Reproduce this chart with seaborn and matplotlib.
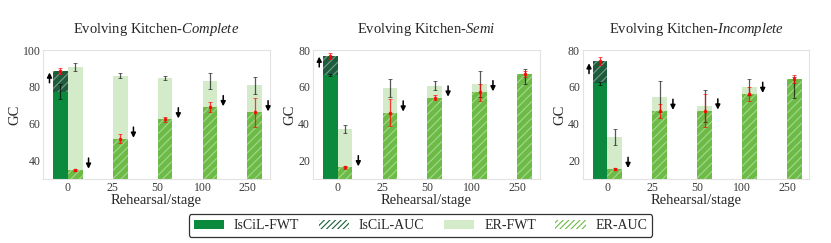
import numpy as np
import pandas as pd
import matplotlib
matplotlib.use("Agg")
import matplotlib.pyplot as plt
from matplotlib.patches import Patch
import seaborn as sns

sns.set_theme(style="white")
plt.rcParams["font.family"] = "serif"
plt.rcParams["font.serif"] = ["Liberation Serif", "DejaVu Serif"]
plt.rcParams["mathtext.fontset"] = "custom"
plt.rcParams["mathtext.rm"] = "Liberation Serif"
plt.rcParams["mathtext.it"] = "Liberation Serif:italic"
plt.rcParams["hatch.linewidth"] = 0.8

# data
stages = ["0", "25", "50", "100", "250"]
methods = ["IsCiL", "ER"]
panels = ["Complete", "Semi", "Incomplete"]
ylims = [(30, 100), (10, 80), (10, 80)]
yticks = [[40, 60, 80, 100], [20, 40, 60, 80], [20, 40, 60, 80]]

# IsCiL only has a value at stage 0
iscil_fwt = [77.5, 66.5, 62.0]
iscil_fwt_err = [4.1, 0.6, 0.8]
iscil_auc = [88.6, 76.8, 74.1]
iscil_auc_err = [1.7, 1.5, 2.0]

er_fwt_complete = [90.8, 86.1, 84.9, 83.2, 80.8]
er_fwt_complete_err = [2.0, 1.2, 1.2, 4.2, 4.6]
er_auc_complete = [35.1, 51.9, 62.4, 69.0, 66.2]
er_auc_complete_err = [0.6, 2.4, 1.5, 2.6, 7.8]

er_fwt_semi = [37.1, 59.3, 60.7, 61.6, 65.6]
er_fwt_semi_err = [2.2, 4.9, 2.4, 7.2, 4.1]
er_auc_semi = [16.4, 46.1, 54.2, 57.1, 67.0]
er_auc_semi_err = [0.7, 7.3, 1.2, 4.5, 1.8]

er_fwt_incomplete = [32.8, 54.6, 49.7, 59.8, 59.6]
er_fwt_incomplete_err = [4.5, 8.4, 8.7, 4.3, 5.7]
er_auc_incomplete = [15.5, 47.0, 47.2, 56.2, 64.3]
er_auc_incomplete_err = [0.6, 3.8, 8.8, 3.6, 2.4]

er_fwt = [er_fwt_complete, er_fwt_semi, er_fwt_incomplete]
er_fwt_err = [er_fwt_complete_err, er_fwt_semi_err, er_fwt_incomplete_err]
er_auc = [er_auc_complete, er_auc_semi, er_auc_incomplete]
er_auc_err = [er_auc_complete_err, er_auc_semi_err, er_auc_incomplete_err]

colors = {
    "IsCiL-FWT": "#0b8a3e",
    "IsCiL-AUC": "#1d5b3d",
    "ER-FWT": "#d4ebc9",
    "ER-AUC": "#6dbb47",
}
hatched = {"IsCiL-AUC", "ER-AUC"}

fig, axes = plt.subplots(1, 3, figsize=(8.31, 2.43), dpi=100)
fig.subplots_adjust(left=0.052, right=0.974, top=0.794, bottom=0.263, wspace=0.19)

for k, ax in enumerate(axes):
    rows = [("IsCiL", "FWT", "0", iscil_fwt[k], iscil_fwt_err[k]),
            ("IsCiL", "AUC", "0", iscil_auc[k], iscil_auc_err[k])]
    for s, f, fe, a, ae in zip(stages, er_fwt[k], er_fwt_err[k], er_auc[k], er_auc_err[k]):
        rows.append(("ER", "FWT", s, f, fe))
        rows.append(("ER", "AUC", s, a, ae))
    df = pd.DataFrame(rows, columns=["method", "metric", "stage", "gc", "err"])

    # back layer first, front layer on top
    layers = [("IsCiL", "AUC"), ("ER", "FWT"), ("IsCiL", "FWT"), ("ER", "AUC")]
    bars = {}
    for method, metric in layers:
        sub = df[(df["method"] == method) & (df["metric"] == metric)]
        name = f"{method}-{metric}"
        n_before = len(ax.patches)
        sns.barplot(data=sub, x="stage", y="gc", hue="method", hue_order=methods,
                    order=stages, palette={m: colors[name] for m in methods},
                    width=0.66, dodge=True, errorbar=None, legend=False,
                    saturation=1, ax=ax)
        new = [p for p in ax.patches[n_before:] if np.isfinite(p.get_height()) and p.get_height() > 0]
        for p in new:
            p.set_linewidth(0)
            if name in hatched:
                p.set_hatch("////")
                p.set_edgecolor((1, 1, 1, 0.4))
        # map each bar to its stage row through its x position
        info = []
        for p in new:
            xc = p.get_x() + p.get_width() / 2
            row = sub[sub["stage"] == stages[int(round(xc))]].iloc[0]
            info.append((p, xc, row["gc"], row["err"]))
        bars[name] = info

    # error bars on top of all bars
    for name, info in bars.items():
        xs = [i[1] for i in info]
        ys = [i[2] for i in info]
        es = [i[3] for i in info]
        if name.endswith("AUC"):
            ax.errorbar(xs, ys, yerr=es, fmt="s", color="red", ms=2, lw=0.9,
                        capsize=1.5, capthick=0.6, alpha=0.75, zorder=5)
        else:
            ax.errorbar(xs, ys, yerr=es, fmt="none", ecolor="black", lw=0.9,
                        capsize=1.5, capthick=0.6, alpha=0.65, zorder=5)

    arrow = dict(arrowstyle="-|>", color="black", lw=1.1, mutation_scale=7, shrinkA=0, shrinkB=0)
    # up arrow beside the IsCiL bar
    p = bars["IsCiL-AUC"][0][0]
    mid = (iscil_fwt[k] + iscil_auc[k]) / 2 + 2
    ax.annotate("", xy=(p.get_x() - 0.08, mid + 2.8), xytext=(p.get_x() - 0.08, mid - 2.8),
                arrowprops=arrow, zorder=6)
    # down arrows where ER-AUC is below ER-FWT
    for p, xc, a, _ in bars["ER-AUC"]:
        f = er_fwt[k][int(round(xc))]
        if a < f:
            x = p.get_x() + p.get_width() + 0.13
            ax.annotate("", xy=(x, a + 0.5), xytext=(x, a + 6.3), arrowprops=arrow, zorder=6)

    ax.set_ylim(*ylims[k])
    ax.set_yticks(yticks[k])
    ax.set_xlim(-0.55, 4.5)
    ax.set_title("Evolving Kitchen-$\\mathit{" + panels[k] + "}$", fontsize=10.5, pad=12)
    ax.set_xlabel("Rehearsal/stage", fontsize=10.5, labelpad=0)
    ax.set_ylabel("GC", fontsize=10.5, labelpad=1)
    ax.tick_params(axis="both", labelsize=8.5, colors="#3a3a3a", length=0, pad=2)
    for sp in ax.spines.values():
        sp.set_color("#e3e3e3")
        sp.set_linewidth(0.8)

handles = [
    Patch(facecolor=colors["IsCiL-FWT"], lw=0, label="IsCiL-FWT"),
    Patch(facecolor="white", edgecolor=colors["IsCiL-AUC"], hatch="//////", lw=0, label="IsCiL-AUC"),
    Patch(facecolor=colors["ER-FWT"], lw=0, label="ER-FWT"),
    Patch(facecolor="white", edgecolor=colors["ER-AUC"], hatch="//////", lw=0, label="ER-AUC"),
]
leg = fig.legend(handles=handles, loc="center", bbox_to_anchor=(0.506, 0.072), ncol=4,
                 fontsize=10, frameon=True, fancybox=True, handlelength=2.2,
                 handleheight=0.6, handletextpad=0.7, columnspacing=1.4,
                 borderpad=0.35)
leg.get_frame().set_edgecolor("black")
leg.get_frame().set_linewidth(0.9)

fig.savefig("out.png", dpi=100)
